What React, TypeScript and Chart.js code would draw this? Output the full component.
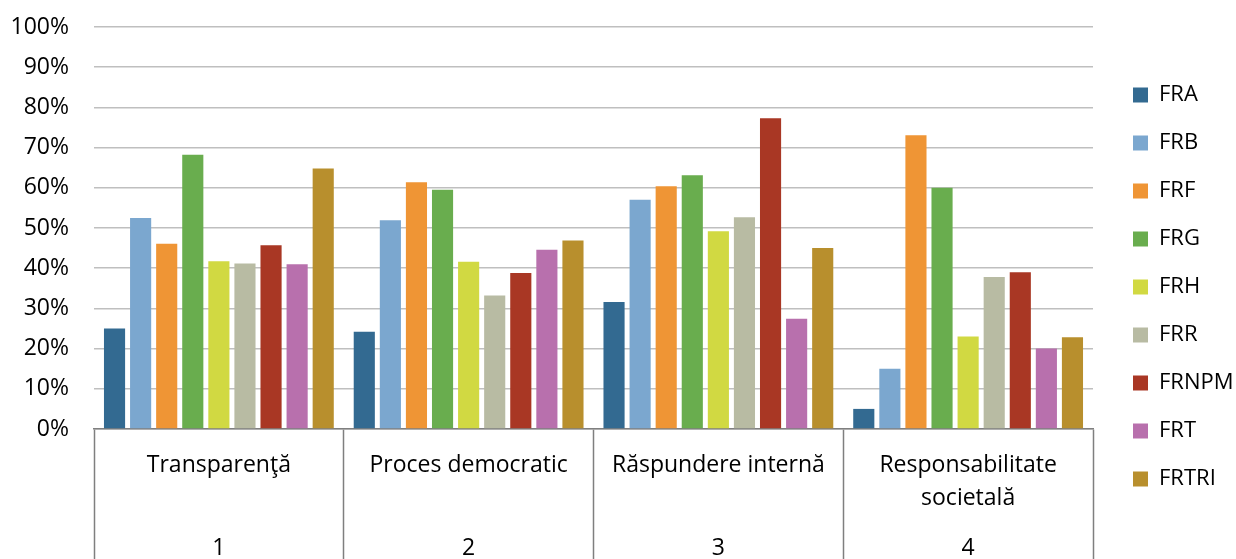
import React, { useEffect, useRef } from "react";
import { Chart, registerables } from "chart.js";

Chart.register(...registerables);

const categoryNames: string[][] = [
  ["Transparenţă"],
  ["Proces democratic"],
  ["Răspundere internă"],
  ["Responsabilitate", "societală"],
];
const categoryNumbers = ["1", "2", "3", "4"];

const seriesNames = ["FRA", "FRB", "FRF", "FRG", "FRH", "FRR", "FRNPM", "FRT", "FRTRI"];
const FRA = [25, 24.2, 31.6, 5];
const FRB = [52.5, 51.9, 57, 15];
const FRF = [46.1, 61.4, 60.4, 73.1];
const FRG = [68.2, 59.5, 63.1, 60];
const FRH = [41.7, 41.6, 49.2, 23];
const FRR = [41.2, 33.2, 52.7, 37.8];
const FRNPM = [45.7, 38.8, 77.3, 39];
const FRT = [41, 44.6, 27.4, 20];
const FRTRI = [64.8, 46.9, 45, 22.8];
const seriesValues = [FRA, FRB, FRF, FRG, FRH, FRR, FRNPM, FRT, FRTRI];
const seriesColors = [
  "#336A91",
  "#7BA7CF",
  "#EF9535",
  "#69AD4E",
  "#D1D942",
  "#B8BBA3",
  "#A93724",
  "#B870AD",
  "#B88F2D",
];

const yMin = 0;
const yMax = 100;
const yStep = 10;

const FONT = "'Open Sans', sans-serif";

const legendFitPlugin = {
  id: "legendFit",
  beforeLayout(chart: any) {
    const lg = chart.legend;
    if (lg && !lg.__patched) {
      const orig = lg.fit.bind(lg);
      lg.fit = function () {
        orig();
        this.width = 129;
        if (this.columnSizes && this.columnSizes[0]) {
          this.columnSizes[0].height += 12;
        }
      };
      lg.__patched = true;
    }
  },
};

export default function App() {
  const ref = useRef<HTMLCanvasElement | null>(null);

  useEffect(() => {
    document.body.style.margin = "0";
    const canvas = ref.current;
    if (!canvas) return;

    const labels = categoryNames.map((name, i) => [
      name[0],
      "",
      name[1] ?? "",
      "",
      "",
      categoryNumbers[i],
    ]);

    const chart = new Chart(canvas, {
      type: "bar",
      data: {
        labels,
        datasets: seriesNames.map((n, i) => ({
          label: n,
          data: seriesValues[i],
          backgroundColor: seriesColors[i],
          borderWidth: 0,
          categoryPercentage: 0.94,
          barPercentage: 0.81,
        })),
      },
      options: {
        responsive: false,
        animation: false,
        events: [],
        layout: { padding: { top: 27, left: 0, right: 0, bottom: 0 } },
        plugins: {
          tooltip: { enabled: false },
          legend: {
            position: "right",
            align: "center",
            labels: {
              boxWidth: 15,
              boxHeight: 15,
              padding: 26,
              color: "#000",
              font: { family: FONT, size: 22 },
            },
          },
        },
        scales: {
          x: {
            offset: true,
            border: { display: true, color: "#7F7F7F", width: 1.5 },
            grid: {
              offset: true,
              drawOnChartArea: false,
              drawTicks: true,
              tickLength: 130,
              tickColor: "#7F7F7F",
              tickWidth: 1.5,
            },
            ticks: {
              autoSkip: false,
              maxRotation: 0,
              minRotation: 0,
              padding: -102.3,
              color: "#000",
              font: { family: FONT, size: 23, lineHeight: "16.6px" },
            },
            afterFit: (s: any) => {
              s.height = 130;
            },
          },
          y: {
            min: yMin,
            max: yMax,
            border: { display: false },
            grid: {
              color: "#BFBFBF",
              lineWidth: 1.5,
              drawTicks: true,
              tickLength: 25,
              tickColor: "rgba(0,0,0,0)",
            },
            ticks: {
              stepSize: yStep,
              padding: 0,
              color: "#000",
              font: { family: FONT, size: 23 },
              callback: (v: any) => v + "%",
            },
            afterFit: (s: any) => {
              s.width = 94;
            },
          },
          y2: {
            position: "right",
            display: true,
            min: yMin,
            max: yMax,
            grid: { display: false, drawTicks: false },
            border: { display: false },
            ticks: { display: false },
            afterFit: (s: any) => {
              s.width = 14;
            },
          },
        },
      },
      plugins: [legendFitPlugin],
    } as any);

    return () => chart.destroy();
  }, []);

  return (
    <div style={{ width: 1236, height: 559, background: "#fff" }}>
      <canvas ref={ref} width={1236} height={559} style={{ display: "block" }} />
    </div>
  );
}
